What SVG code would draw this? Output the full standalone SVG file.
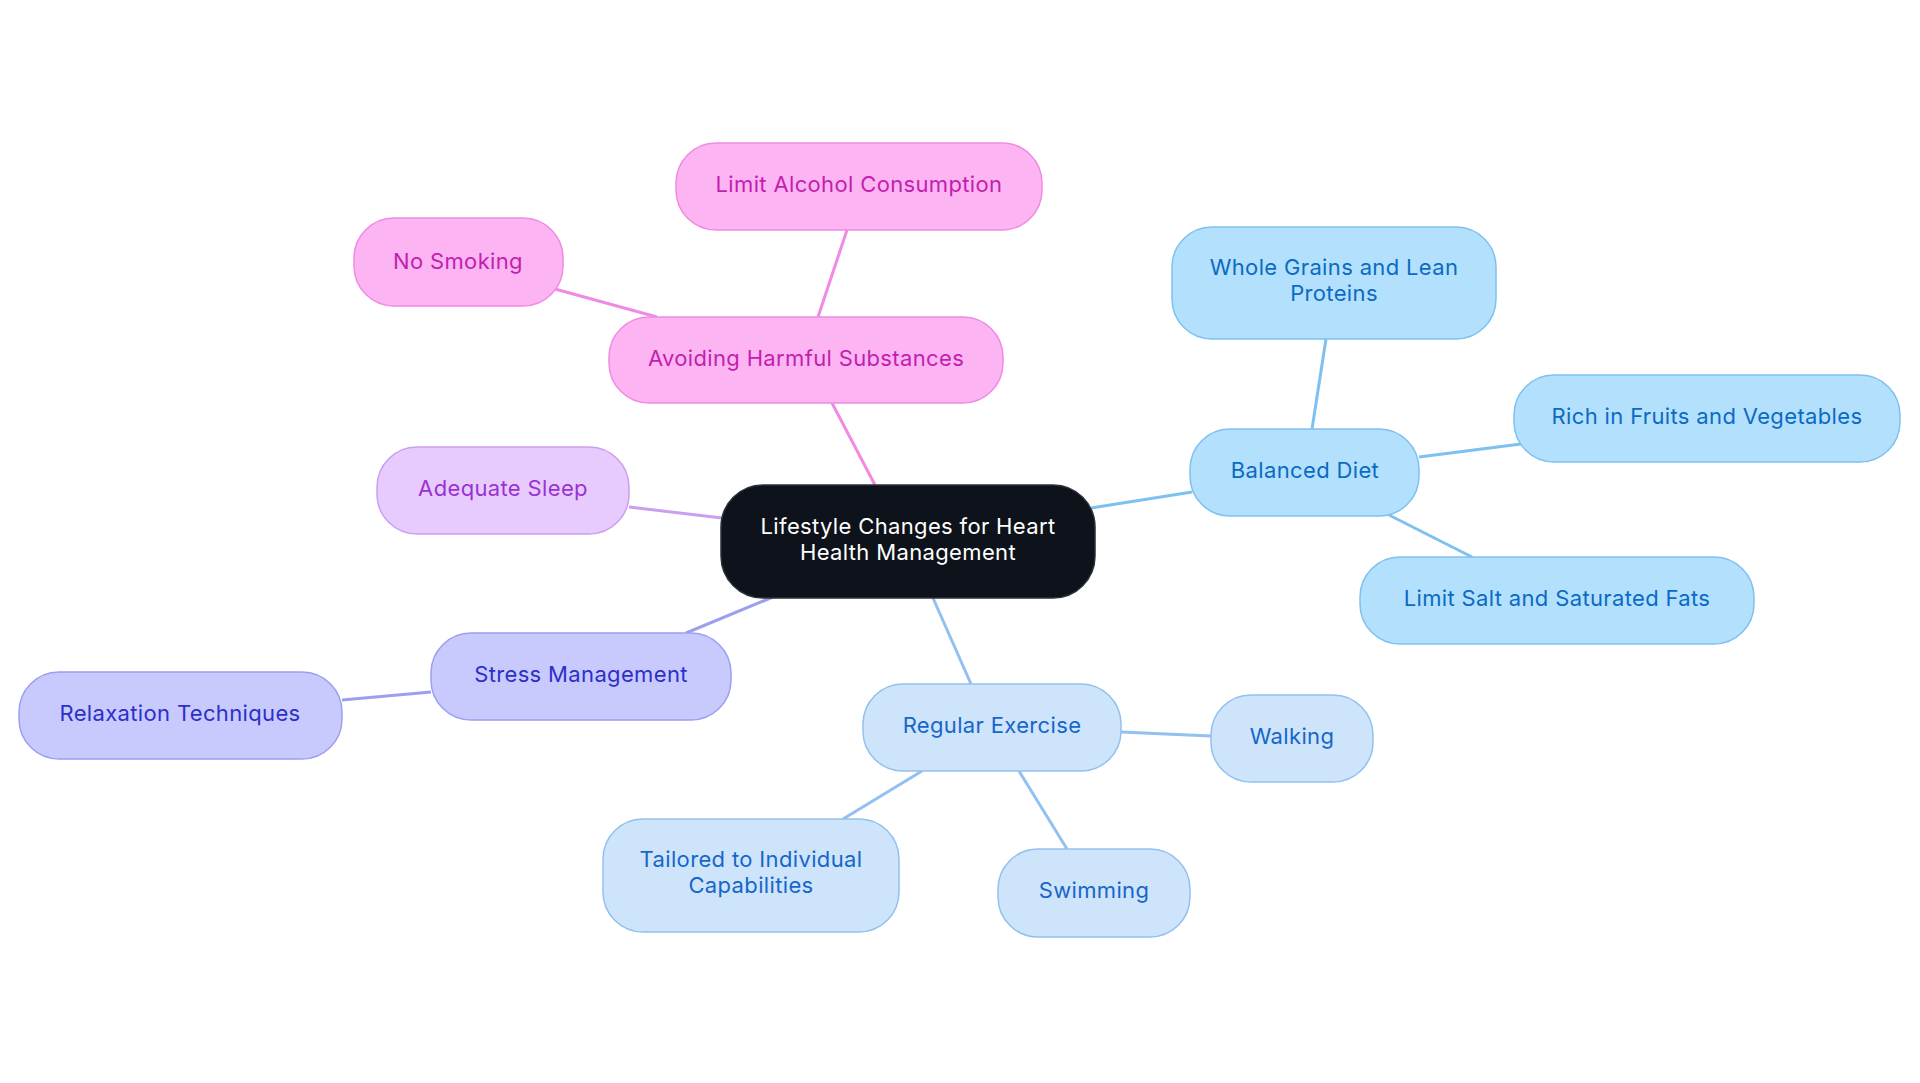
<svg xmlns="http://www.w3.org/2000/svg" width="1920" height="1083" viewBox="0 0 1920 1083">
<style>
text{font-family:Inter,"Noto Sans","Liberation Sans",sans-serif;font-size:22px;text-anchor:middle;letter-spacing:0.35px}
.c rect{fill:#0d121b;stroke:#2b3038;stroke-width:1.5}
.c text{fill:#ffffff}
.p rect{fill:#fdb4f3;stroke:#f08ae3;stroke-width:1.5}
.p text{fill:#c21fae}
.d rect{fill:#b3e0fd;stroke:#7dc1ef;stroke-width:1.5}
.d text{fill:#0b6bc2}
.e rect{fill:#cde4fb;stroke:#92c0ef;stroke-width:1.5}
.e text{fill:#1766c9}
.s rect{fill:#c8cafd;stroke:#9c9ff0;stroke-width:1.5}
.s text{fill:#2d2fc8}
.l rect{fill:#e8cbfd;stroke:#cb9ff0;stroke-width:1.5}
.l text{fill:#9a32d2}
#edges line{stroke-width:3;fill:none}
</style>
<rect width="1920" height="1083" fill="#ffffff"/>
<g id="edges">
<line x1="832" y1="403" x2="875" y2="485" stroke="#f08ae3"/>
<line x1="847" y1="230" x2="818" y2="317" stroke="#f08ae3"/>
<line x1="555" y1="289" x2="657" y2="317" stroke="#f08ae3"/>
<line x1="1091" y1="508" x2="1192" y2="492" stroke="#7dc1ef"/>
<line x1="1326" y1="339" x2="1312" y2="429" stroke="#7dc1ef"/>
<line x1="1419" y1="457" x2="1521" y2="444" stroke="#7dc1ef"/>
<line x1="1389" y1="515" x2="1472" y2="557" stroke="#7dc1ef"/>
<line x1="933" y1="598" x2="971" y2="684" stroke="#92c0ef"/>
<line x1="1121" y1="732" x2="1211" y2="736" stroke="#92c0ef"/>
<line x1="922" y1="771" x2="843" y2="819" stroke="#92c0ef"/>
<line x1="1019" y1="771" x2="1067" y2="849" stroke="#92c0ef"/>
<line x1="629" y1="507" x2="722" y2="518" stroke="#cb9ff0"/>
<line x1="686" y1="633" x2="773" y2="597" stroke="#9c9ff0"/>
<line x1="342" y1="700" x2="431" y2="692" stroke="#9c9ff0"/>
</g>
<g id="center" class="c"><rect x="721" y="485" width="374" height="113" rx="42"/><text x="908" y="534">Lifestyle Changes for Heart</text><text x="908" y="560">Health Management</text></g>
<g id="avoiding" class="p"><rect x="609" y="317" width="394" height="86" rx="40"/><text x="806" y="366">Avoiding Harmful Substances</text></g>
<g id="alcohol" class="p"><rect x="676" y="143" width="366" height="87" rx="40"/><text x="859" y="192">Limit Alcohol Consumption</text></g>
<g id="smoking" class="p"><rect x="354" y="218" width="209" height="88" rx="40"/><text x="458" y="269">No Smoking</text></g>
<g id="diet" class="d"><rect x="1190" y="429" width="229" height="87" rx="40"/><text x="1305" y="478">Balanced Diet</text></g>
<g id="grains" class="d"><rect x="1172" y="227" width="324" height="112" rx="40"/><text x="1334" y="275">Whole Grains and Lean</text><text x="1334" y="301">Proteins</text></g>
<g id="fruits" class="d"><rect x="1514" y="375" width="386" height="87" rx="40"/><text x="1707" y="424">Rich in Fruits and Vegetables</text></g>
<g id="salt" class="d"><rect x="1360" y="557" width="394" height="87" rx="40"/><text x="1557" y="606">Limit Salt and Saturated Fats</text></g>
<g id="exercise" class="e"><rect x="863" y="684" width="258" height="87" rx="40"/><text x="992" y="733">Regular Exercise</text></g>
<g id="walking" class="e"><rect x="1211" y="695" width="162" height="87" rx="40"/><text x="1292" y="744">Walking</text></g>
<g id="tailored" class="e"><rect x="603" y="819" width="296" height="113" rx="40"/><text x="751" y="867">Tailored to Individual</text><text x="751" y="893">Capabilities</text></g>
<g id="swimming" class="e"><rect x="998" y="849" width="192" height="88" rx="40"/><text x="1094" y="898">Swimming</text></g>
<g id="sleep" class="l"><rect x="377" y="447" width="252" height="87" rx="40"/><text x="503" y="496">Adequate Sleep</text></g>
<g id="stress" class="s"><rect x="431" y="633" width="300" height="87" rx="40"/><text x="581" y="682">Stress Management</text></g>
<g id="relaxation" class="s"><rect x="19" y="672" width="323" height="87" rx="40"/><text x="180" y="721">Relaxation Techniques</text></g>
</svg>
